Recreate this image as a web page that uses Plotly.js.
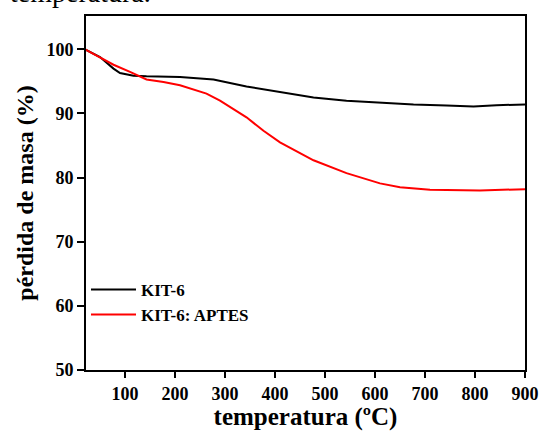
<!DOCTYPE html>
<html>
<head>
<meta charset="utf-8">
<script src="https://cdn.plot.ly/plotly-3.0.1.min.js"></script>
<style>html,body{margin:0;padding:0;background:#fff;}#chart{width:542px;height:431px;}</style>
</head>
<body>
<div id="chart"></div>
<script>
// KIT-6 (temperature °C, mass %)
const kitT = [20, 50, 77, 90, 117, 143, 210, 277, 343, 410, 477, 543, 610, 677, 743, 797, 843, 900];
const kitV = [100, 98.8, 97.0, 96.3, 95.9, 95.8, 95.7, 95.3, 94.2, 93.3, 92.5, 92.0, 91.7, 91.4, 91.25, 91.1, 91.3, 91.4];
// KIT-6: APTES
const aptT = [20, 50, 77, 110, 143, 177, 210, 263, 290, 343, 377, 410, 477, 543, 610, 650, 710, 810, 900];
const aptV = [100, 98.8, 97.6, 96.5, 95.3, 94.9, 94.4, 93.1, 92.0, 89.4, 87.3, 85.5, 82.7, 80.7, 79.1, 78.5, 78.1, 78.0, 78.2];
const xTicks = [100, 200, 300, 400, 500, 600, 700, 800, 900];
const yTicks = [50, 60, 70, 80, 90, 100];

const serif = 'Liberation Serif';
const traces = [
  {x: kitT, y: kitV, mode: 'lines', name: 'KIT-6', line: {color: '#000000', width: 2}},
  {x: aptT, y: aptV, mode: 'lines', name: 'KIT-6: APTES', line: {color: '#ff0000', width: 2}}
];
const layout = {
  width: 542, height: 431,
  margin: {l: 86, r: 17, t: 16, b: 61},
  paper_bgcolor: '#fff', plot_bgcolor: '#fff',
  showlegend: true,
  legend: {x: 0, xanchor: 'left', y: 0.277, yanchor: 'top', bgcolor: 'rgba(0,0,0,0)', itemwidth: 45,
           font: {family: serif, size: 17, color: '#000', weight: 'bold'}, tracegroupgap: 0},
  xaxis: {range: [22, 900], tickvals: xTicks, ticktext: xTicks.map(String),
          ticks: 'outside', ticklen: 6, tickwidth: 2, tickcolor: '#000',
          showline: true, linewidth: 2, linecolor: '#000', mirror: true,
          showgrid: false, zeroline: false,
          tickfont: {family: serif, size: 18, color: '#000', weight: 'bold'},
          title: {text: 'temperatura (ºC)', font: {family: serif, size: 25, color: '#000', weight: 'bold'}, standoff: 4}},
  yaxis: {range: [50, 105.2], tickvals: yTicks, ticktext: yTicks.map(String),
          ticks: 'outside', ticklen: 7, tickwidth: 2, tickcolor: '#000',
          showline: true, linewidth: 2, linecolor: '#000', mirror: true,
          showgrid: false, zeroline: false,
          tickfont: {family: serif, size: 18, color: '#000', weight: 'bold'},
          title: {text: 'pérdida de masa (%)', font: {family: serif, size: 24, color: '#000', weight: 'bold'}, standoff: 6}},
  annotations: [
    {text: 'temperatura.', xref: 'paper', yref: 'paper', x: -0.178, y: 1.065, xanchor: 'left', yanchor: 'middle',
     showarrow: false, font: {family: serif, size: 28, color: '#000'}}
  ]
};
Plotly.newPlot('chart', traces, layout, {displayModeBar: false, staticPlot: true});
</script>
</body>
</html>
